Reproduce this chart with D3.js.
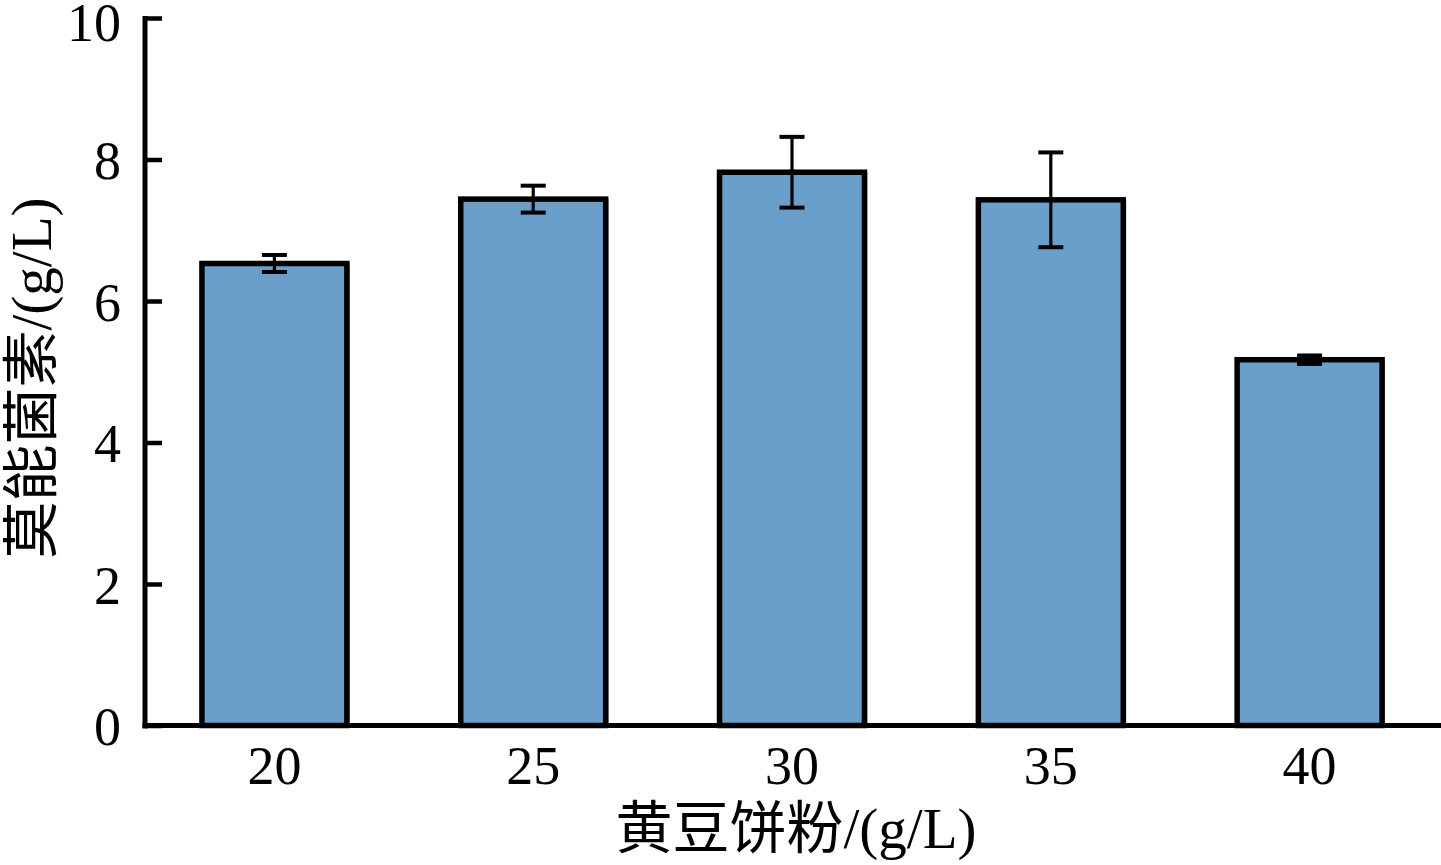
<!DOCTYPE html>
<html>
<head>
<meta charset="utf-8">
<script src="https://cdn.jsdelivr.net/npm/d3@7"></script>
<style>
  html, body { margin: 0; padding: 0; background: #fff; }
  svg { display: block; }
  text { font-family: "Liberation Serif", "Noto Sans CJK SC", serif; fill: #000; }
</style>
</head>
<body>
<svg id="chart" width="1441" height="865"></svg>
<script>
const categories = ["20", "25", "30", "35", "40"];
const values = [6.53, 7.44, 7.82, 7.43, 5.17];
const errors = [0.12, 0.19, 0.50, 0.67, 0.06];
const yTicks = [0, 2, 4, 6, 8, 10];
const xTitle = "黄豆饼粉/(g/L)";
const yTitle = "莫能菌素/(g/L)";

const svg = d3.select("#chart");
const x0 = 145, x1 = 1439, yTop = 18, yBot = 725.5;

const x = d3.scaleBand().domain(categories).range([x0, x1]).paddingInner(0.44).paddingOuter(0.22);
const y = d3.scaleLinear().domain([0, 10]).range([yBot, yTop]);

const data = categories.map((c, i) => ({ c, v: values[i], e: errors[i] }));

// shadows
svg.append("g").selectAll("rect").data(data).join("rect")
  .attr("x", d => x(d.c) + 3)
  .attr("y", d => y(d.v))
  .attr("width", x.bandwidth())
  .attr("height", d => yBot - y(d.v))
  .attr("fill", "#8a8a8a");

// bars
svg.append("g").selectAll("rect").data(data).join("rect")
  .attr("x", d => x(d.c))
  .attr("y", d => y(d.v))
  .attr("width", x.bandwidth())
  .attr("height", d => yBot - y(d.v))
  .attr("fill", "#6a9fcc")
  .attr("stroke", "#000")
  .attr("stroke-width", 5.5);

// error bars
const eg = svg.append("g").attr("stroke", "#000").attr("stroke-width", 3.2);
const capW = 25;
data.forEach(d => {
  const cx = x(d.c) + x.bandwidth() / 2;
  eg.append("line").attr("x1", cx).attr("x2", cx).attr("y1", y(d.v + d.e)).attr("y2", y(d.v - d.e));
  eg.append("line").attr("x1", cx - capW / 2).attr("x2", cx + capW / 2).attr("y1", y(d.v + d.e)).attr("y2", y(d.v + d.e)).attr("stroke-width", 4);
  eg.append("line").attr("x1", cx - capW / 2).attr("x2", cx + capW / 2).attr("y1", y(d.v - d.e)).attr("y2", y(d.v - d.e)).attr("stroke-width", 4);
});

// y axis (ticks inward)
const yAxis = d3.axisRight(y).tickValues(yTicks).tickSize(17).tickFormat(d3.format("d"));
const ya = svg.append("g").attr("transform", `translate(${x0},0)`).call(yAxis);
ya.select(".domain").remove();
ya.selectAll(".tick line").attr("stroke", "#000").attr("stroke-width", 4.5);
ya.selectAll(".tick text").attr("x", -24).attr("text-anchor", "end")
  .attr("dy", d => d === 10 ? "0.42em" : "0.36em")
  .style("font-size", "54px");
svg.append("line").attr("x1", x0).attr("x2", x0).attr("y1", yTop - 2).attr("y2", yBot + 3)
  .attr("stroke", "#000").attr("stroke-width", 5);

// x axis
const xAxis = d3.axisBottom(x).tickSize(0).tickPadding(0);
const xa = svg.append("g").attr("transform", `translate(0,${yBot})`).call(xAxis);
xa.select(".domain").remove();
xa.selectAll(".tick text").attr("y", 40).attr("dy", "0.34em").style("font-size", "54px");
svg.append("line").attr("x1", x0 - 2.5).attr("x2", 1441).attr("y1", yBot).attr("y2", yBot)
  .attr("stroke", "#000").attr("stroke-width", 5);

// titles
svg.append("text").attr("x", 796).attr("y", 848).attr("text-anchor", "middle")
  .style("font-size", "57px").text(xTitle);
svg.append("text").attr("transform", "translate(51,378) rotate(-90)").attr("text-anchor", "middle")
  .style("font-size", "57px").text(yTitle);
</script>
</body>
</html>
